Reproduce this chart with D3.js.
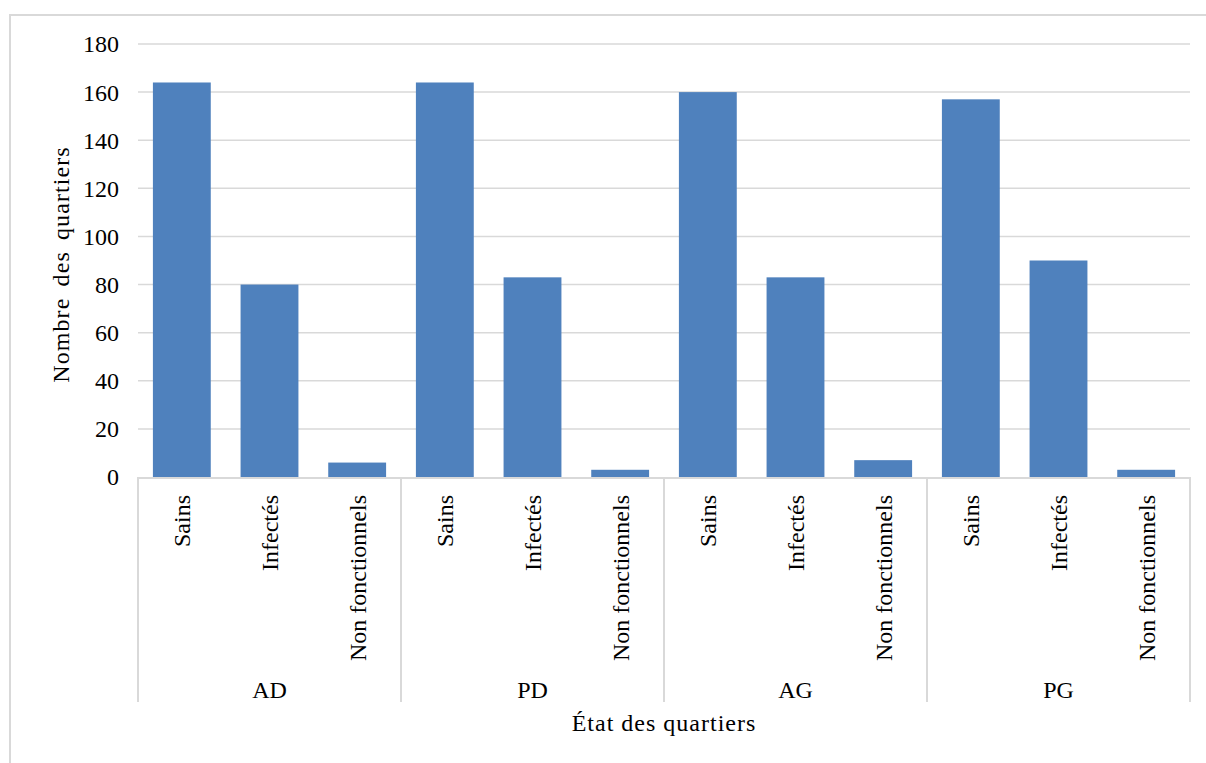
<!DOCTYPE html>
<html>
<head>
<meta charset="utf-8">
<script src="https://cdn.jsdelivr.net/npm/d3@7"></script>
<style>
  html, body { margin: 0; padding: 0; background: #fff; }
  svg { display: block; }
  text { font-family: "Liberation Serif", "Times New Roman", serif; fill: #000; }
</style>
</head>
<body>
<svg id="chart" width="1206" height="763"></svg>
<script>
// Positions (groups) and health states of the quarters
const groups = ["AD", "PD", "AG", "PG"];
const states = ["Sains", "Infectés", "Non fonctionnels"];

// Number of quarters per state, one array per group
const valuesAD = [164, 80, 6];
const valuesPD = [164, 83, 3];
const valuesAG = [160, 83, 7];
const valuesPG = [157, 90, 3];

const yTicks = [0, 20, 40, 60, 80, 100, 120, 140, 160, 180];

const yTitle = "Nombre des quartiers";
const xTitle = "État des quartiers";

const seriesByGroup = [valuesAD, valuesPD, valuesAG, valuesPG];
const rows = [];
groups.forEach((g, gi) => {
  states.forEach((s, si) => {
    rows.push({ key: g + "|" + s, group: g, state: s, value: seriesByGroup[gi][si] });
  });
});

const svg = d3.select("#chart");
const plotLeft = 138, plotRight = 1190, plotTop = 44, plotBottom = 477;

// chart frame
svg.append("rect")
  .attr("x", 10).attr("y", 15)
  .attr("width", 1210).attr("height", 760)
  .attr("fill", "none").attr("stroke", "#d9d9d9").attr("stroke-width", 2);

const x = d3.scaleBand()
  .domain(rows.map(d => d.key))
  .range([plotLeft, plotRight])
  .paddingInner(0.34)
  .paddingOuter(0.17);

const xGroup = d3.scaleBand()
  .domain(groups)
  .range([plotLeft, plotRight])
  .padding(0);

const y = d3.scaleLinear().domain([0, 180]).range([plotBottom, plotTop]);

// horizontal gridlines
svg.append("g")
  .selectAll("line")
  .data(yTicks.filter(t => t > 0))
  .join("line")
  .attr("x1", plotLeft).attr("x2", plotRight)
  .attr("y1", d => y(d)).attr("y2", d => y(d))
  .attr("stroke", "#d9d9d9").attr("stroke-width", 1.5);

// y tick labels
svg.append("g")
  .selectAll("text")
  .data(yTicks)
  .join("text")
  .attr("x", 119)
  .attr("y", d => y(d))
  .attr("dy", "0.35em")
  .attr("text-anchor", "end")
  .style("font-size", "24px")
  .text(d => d);

// bars
svg.append("g")
  .selectAll("rect")
  .data(rows)
  .join("rect")
  .attr("x", d => x(d.key))
  .attr("width", x.bandwidth())
  .attr("y", d => y(d.value))
  .attr("height", d => y(0) - y(d.value))
  .attr("fill", "#4f81bd");

// category axis line and group separators
svg.append("line")
  .attr("x1", plotLeft).attr("x2", plotRight)
  .attr("y1", plotBottom + 1).attr("y2", plotBottom + 1)
  .attr("stroke", "#d9d9d9").attr("stroke-width", 2);

const seps = groups.map(g => xGroup(g)).concat([plotRight]);
svg.append("g")
  .selectAll("line")
  .data(seps)
  .join("line")
  .attr("x1", d => d).attr("x2", d => d)
  .attr("y1", plotBottom).attr("y2", 702)
  .attr("stroke", "#d9d9d9").attr("stroke-width", 2);

// state labels (rotated)
svg.append("g")
  .selectAll("text")
  .data(rows)
  .join("text")
  .attr("transform", d => `translate(${x(d.key) + x.bandwidth() / 2},495) rotate(-90)`)
  .attr("dy", "0.35em")
  .attr("text-anchor", "end")
  .style("font-size", "24px")
  .text(d => d.state);

// group labels
svg.append("g")
  .selectAll("text")
  .data(groups)
  .join("text")
  .attr("x", d => xGroup(d) + xGroup.bandwidth() / 2)
  .attr("y", 698)
  .attr("text-anchor", "middle")
  .style("font-size", "24px")
  .text(d => d);

// axis titles
svg.append("text")
  .attr("x", (plotLeft + plotRight) / 2)
  .attr("y", 731)
  .attr("text-anchor", "middle")
  .style("font-size", "24px")
  .style("letter-spacing", "1px")
  .text(xTitle);

svg.append("text")
  .attr("transform", `translate(61,${(plotTop + plotBottom) / 2 + 4}) rotate(-90)`)
  .attr("dy", "0.35em")
  .attr("text-anchor", "middle")
  .style("font-size", "24px")
  .style("letter-spacing", "1.1px")
  .style("word-spacing", "4px")
  .text(yTitle);
</script>
</body>
</html>
